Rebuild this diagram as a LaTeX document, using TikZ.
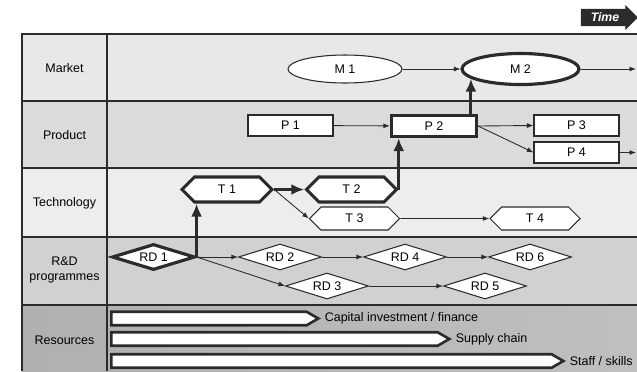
\documentclass[tikz,border=0pt]{standalone}
\usepackage{fontspec}
\setmainfont{Liberation Sans}
\usetikzlibrary{positioning,shapes.geometric,shapes.symbols,shapes.arrows,arrows.meta}

\definecolor{ink}{gray}{0.17}
\definecolor{rowmkt}{gray}{0.91}
\definecolor{rowprod}{gray}{0.86}
\definecolor{rowtech}{gray}{0.93}
\definecolor{rowrd}{gray}{0.82}

\begin{document}
\begin{tikzpicture}[
  x=0.2mm, y=-0.2mm,
  font=\fontsize{7.1}{8.4}\selectfont,
  lab/.style={align=center, inner sep=1pt},
  mkt/.style={draw=ink, fill=white, ellipse, inner sep=0pt,
              minimum width=22.8mm, minimum height=5.6mm, line width=0.6pt},
  prod/.style={draw=ink, fill=white, rectangle, inner sep=0pt,
               minimum width=17mm, minimum height=4.2mm, line width=0.6pt},
  tech/.style={draw=ink, fill=white, signal, signal to=west and east,
               inner sep=0pt, minimum width=18mm, minimum height=4.6mm, line width=0.6pt},
  rdp/.style={draw=ink, fill=white, diamond, aspect=3, inner sep=0pt,
              minimum width=16.6mm, minimum height=5.2mm, line width=0.6pt},
  res/.style={draw=ink, fill=white, signal, signal to=east, signal pointer angle=60,
              inner sep=0pt, minimum height=2.7mm, line width=1.5pt, anchor=west},
  key/.style={line width=1.8pt},
  flow/.style={draw=ink, line width=0.5pt, -{Latex[length=1.3mm,width=1mm]}},
  main/.style={draw=ink, line width=1.7pt, -{Latex[length=2.6mm,width=2.2mm]}}
]
\useasboundingbox (0,0) rectangle (637,371);

% ── the grid ─────────────────────────────────────────────────────────
\fill[rowmkt]  (22,34)  rectangle (637,101);
\fill[rowprod] (22,101) rectangle (637,168);
\fill[rowtech] (22,168) rectangle (637,237);
\fill[rowrd]   (22,237) rectangle (637,305);
\shade[left color=gray!62, right color=gray!50] (22,305) rectangle (637,371);
\draw[ink, line width=0.9pt]
  (637,34) -- (22,34) -- (22,371)
  (107,34) -- (107,371)
  (22,101) -- (637,101)
  (22,168) -- (637,168)
  (22,237) -- (637,237)
  (22,305) -- (637,305);

\node[single arrow, fill=ink, text=white, inner sep=1pt, minimum height=11.4mm,
      minimum width=5mm, single arrow head extend=0.6mm,
      font=\fontsize{7}{8}\bfseries\itshape] (time) at (605,17.5) {Time\hspace{2mm}};

% ── row labels ───────────────────────────────────────────────────────
\node[lab] (lmkt)  at (64.5,68)  {Market};
\node[lab] (lprod) at (64.5,135) {Product};
\node[lab] (ltech) at (64.5,203) {Technology};
\node[lab] (lrd)   at (64.5,270) {R\&D\\programmes};
\node[lab] (lres)  at (64.5,340) {Resources};

% ── market and product ───────────────────────────────────────────────
\node[mkt]      (m1) at (345,69)    {M 1};
\node[mkt, key, minimum width=23.4mm, minimum height=6.2mm] (m2) at (520.5,69) {M 2};
\coordinate (mend) at (636,69);

\node[prod]      (p1) at (290.5,125.5) {P 1};
\node[prod, key] (p2) at (434,126)     {P 2};
\node[prod]      (p3) at (576.5,125.5) {P 3};
\node[prod]      (p4) at (576.5,152.5) {P 4};
\coordinate (pend) at (636,152.5);

% ── technology ───────────────────────────────────────────────────────
\node[tech, key, minimum height=5mm] (t1) at (227,189.5)   {T 1};
\node[tech, key, minimum height=5mm] (t2) at (351.5,189.5) {T 2};
\node[tech] (t3) at (354.5,218.5) {T 3};
\node[tech] (t4) at (535,218.5)   {T 4};

% ── R&D programmes ───────────────────────────────────────────────────
\node[rdp, key] (rd1) at (153.5,257) {RD 1};
\node[rdp] (rd2) at (280,257) {RD 2};
\node[rdp] (rd4) at (405,257) {RD 4};
\node[rdp] (rd6) at (530,257) {RD 6};
\node[rdp] (rd3) at (327,286) {RD 3};
\node[rdp] (rd5) at (485,286) {RD 5};

% ── resources ────────────────────────────────────────────────────────
\node[res, minimum width=41.4mm] (cap)   at (110,318.5) {};
\node[res, minimum width=67.6mm] (sup)   at (110,339)   {};
\node[res, minimum width=90.4mm] (staff) at (110,361)   {};
\node[lab, inner sep=0pt, right=0.7mm of cap]   (lcap)   {Capital investment / finance};
\node[lab, inner sep=0pt, right=0.7mm of sup]   (lsup)   {Supply chain};
\node[lab, inner sep=0pt, right=0.7mm of staff] (lstaff) {Staff / skills};

% ── thin flows ───────────────────────────────────────────────────────
\draw[flow] (m1) -- (m2);
\draw[flow] (m2) -- (mend);
\draw[flow] (p1) -- (p2);
\draw[flow] (p2.east) -- (p3.west);
\draw[flow] (p2.east) -- (p4.west);
\draw[flow] (p4) -- (pend);
\draw[flow] (t1.east) -- (t3.west);
\draw[flow] (t3) -- (t4);
\draw[flow] (rd1.east) -- (rd2.west);
\draw[flow] (rd1.east) -- (rd3.west);
\draw[flow] (rd2) -- (rd4);
\draw[flow] (rd4) -- (rd6);
\draw[flow] (rd3) -- (rd5);

% ── the main path ────────────────────────────────────────────────────
\draw[main] (rd1.east) -- (rd1.east |- t1.south);
\draw[main] (t1.east) -- (t2.west);
\draw[main] (t2.east) -- (t2.east |- p2.south);
\draw[main] (m2.191 |- p2.north) -- (m2.191);

\end{tikzpicture}
\end{document}
